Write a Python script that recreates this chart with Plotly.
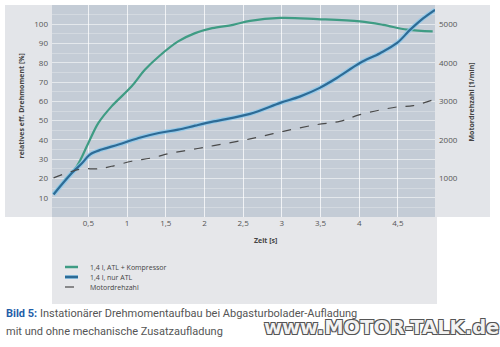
import plotly.graph_objects as go

# ---- data ----
t_komp = [0.05, 0.2, 0.35, 0.5, 0.63, 0.8, 1.06, 1.23, 1.41, 1.66, 1.88, 2.1,
          2.37, 2.59, 2.98, 3.46, 4.01, 4.31, 4.62, 4.95]
komp = [12, 19.4, 26.3, 38.4, 48.8, 57.4, 67.8, 76.4, 83.3, 91.1, 95.4, 98,
        99.7, 101.8, 103.3, 102.7, 101.5, 99.7, 97.2, 96.3]

t_atl = [0.05, 0.29, 0.42, 0.52, 0.67, 0.89, 1.15, 1.41, 1.66, 1.88, 2.12, 2.59,
         2.98, 3.24, 3.49, 3.71, 4.01, 4.27, 4.49, 4.66, 4.83, 4.98]
atl = [11.7, 22.9, 28, 32.4, 35, 37.6, 41, 43.6, 45.3, 47.4, 49.6, 53.5,
       59.2, 62.6, 67, 72.1, 79.9, 85, 90.3, 97.2, 103.2, 107.5]

t_rpm = [0.05, 0.29, 0.42, 0.63, 0.8, 1.06, 1.32, 1.58, 1.84, 2.12, 2.59, 3.02,
         3.45, 3.75, 4.01, 4.49, 4.7, 4.96]
rpm = [1016, 1187, 1250, 1250, 1316, 1446, 1533, 1663, 1750, 1852, 2026, 2223,
       2396, 2482, 2655, 2855, 2889, 3044]

x_ticks = [0.5, 1, 1.5, 2, 2.5, 3, 3.5, 4, 4.5]
x_labels = ["0,5", "1", "1,5", "2", "2,5", "3", "3,5", "4", "4,5"]
y_ticks = [10, 20, 30, 40, 50, 60, 70, 80, 90, 100]
y2_ticks = [1000, 2000, 3000, 4000, 5000]

names = ["1,4 l, ATL + Kompressor", "1,4 l, nur ATL", "Motordrehzahl"]

GREEN = "#3f9c84"
BLUE = "#2d6b96"
HALO = "rgba(140,200,235,0.8)"
DASH = "#4a4a4a"
TICK = "#555555"
FONT = "Open Sans"

fig = go.Figure()
fig.add_trace(go.Scatter(x=t_komp, y=komp, mode="lines", name=names[0],
                         line=dict(color=GREEN, width=2.2, shape="spline")))
fig.add_trace(go.Scatter(x=t_atl, y=atl, mode="lines", showlegend=False, hoverinfo="skip",
                         line=dict(color=HALO, width=4.5, shape="spline")))
fig.add_trace(go.Scatter(x=t_atl, y=atl, mode="lines", name=names[1],
                         line=dict(color=BLUE, width=2.2, shape="spline")))
fig.add_trace(go.Scatter(x=t_rpm, y=rpm, mode="lines", name=names[2], yaxis="y2",
                         line=dict(color=DASH, width=1.2, dash="dash", shape="spline")))

W, H = 500, 347
L, R, T, B = 52, 435, 5, 217
pw, ph = R - L, B - T


def px(x):
    return (x - L) / pw


def py(y):
    return (B - y) / ph


shapes = [
    dict(type="rect", xref="paper", yref="paper", x0=px(5), x1=0, y0=0, y1=1,
         fillcolor="#e3e5e9", line=dict(width=0), layer="below"),
    dict(type="rect", xref="paper", yref="paper", x0=1, x1=px(490), y0=0, y1=1,
         fillcolor="#e3e5e9", line=dict(width=0), layer="below"),
    dict(type="rect", xref="paper", yref="paper", x0=0, x1=px(437), y0=py(304), y1=0,
         fillcolor="#e6e7ea", line=dict(width=0), layer="below"),
]

# manual legend
leg_rows = [267, 277, 287]
leg_styles = [dict(color=GREEN, width=2.5), dict(color=BLUE, width=2.5),
              dict(color=DASH, width=1.2, dash="dash")]
for yy, st in zip(leg_rows, leg_styles):
    if st["color"] == BLUE:
        shapes.append(dict(type="line", xref="paper", yref="paper", x0=px(65), x1=px(78),
                           y0=py(yy), y1=py(yy), line=dict(color=HALO, width=4)))
    shapes.append(dict(type="line", xref="paper", yref="paper", x0=px(65), x1=px(78),
                       y0=py(yy), y1=py(yy), line=st))

annotations = [
    dict(text="<b>Zeit [s]</b>", x=px(265), y=py(247), xref="paper", yref="paper",
         showarrow=False, font=dict(size=7, color="#444", family=FONT)),
    dict(text="<b>relatives eff. Drehmoment [%]</b>", x=px(15), y=py(106), xref="paper",
         yref="paper", showarrow=False, textangle=-90,
         font=dict(size=7, color="#444", family=FONT)),
    dict(text="<b>Motordrehzahl [1/min]</b>", x=px(478), y=py(102), xref="paper",
         yref="paper", showarrow=False, textangle=-90,
         font=dict(size=7, color="#444", family=FONT)),
    dict(text="<b><span style='color:#1f5ea8'>Bild 5:</span></b> Instationärer Drehmomentaufbau bei Abgasturbolader-Aufladung",
         x=px(4), y=py(313), xref="paper", yref="paper", xanchor="left", yanchor="middle",
         showarrow=False, font=dict(size=11, color="#555", family="Roboto")),
    dict(text="mit und ohne mechanische Zusatzaufladung",
         x=px(4), y=py(331), xref="paper", yref="paper", xanchor="left", yanchor="middle",
         showarrow=False, font=dict(size=11, color="#555", family="Roboto")),
    dict(text="<b>www.MOTOR-TALK.de</b>", x=px(381), y=py(327), xref="paper", yref="paper",
         xanchor="center", yanchor="middle", showarrow=False,
         font=dict(size=19.5, color="#f2f2f2", family="DejaVu Sans",
                   shadow="1px 1px 0 #555, -1px -1px 0 #555, 1px -1px 0 #555, -1px 1px 0 #555")),
]
for yy, nm in zip(leg_rows, names):
    annotations.append(dict(text=nm, x=px(88), y=py(yy), xref="paper", yref="paper",
                            xanchor="left", yanchor="middle", showarrow=False,
                            font=dict(size=7, color="#444", family=FONT)))

fig.update_layout(
    width=W, height=H,
    margin=dict(l=L, r=W - R, t=T, b=H - B),
    paper_bgcolor="white",
    plot_bgcolor="#c4ccd6",
    showlegend=False,
    xaxis=dict(range=[0.03, 4.98], tickvals=x_ticks, ticktext=x_labels,
               showgrid=True, gridcolor="rgba(255,255,255,0.75)", gridwidth=1,
               zeroline=False, showline=False, ticks="",
               tickfont=dict(size=8, color=TICK, family=FONT)),
    yaxis=dict(range=[0, 110], tickvals=y_ticks, showgrid=True,
               gridcolor="rgba(255,255,255,0.4)", gridwidth=1,
               minor=dict(dtick=5, showgrid=True, gridcolor="rgba(255,255,255,0.25)"),
               zeroline=False, showline=False, ticks="", ticklabelstandoff=3,
               tickfont=dict(size=8, color=TICK, family=FONT)),
    yaxis2=dict(range=[0, 5500], tickvals=y2_ticks, overlaying="y", side="right",
                showgrid=False, zeroline=False, showline=False, ticks="",
                ticklabelstandoff=3,
                tickfont=dict(size=8, color=TICK, family=FONT)),
    shapes=shapes,
    annotations=annotations,
)

fig.write_html("out.html")
